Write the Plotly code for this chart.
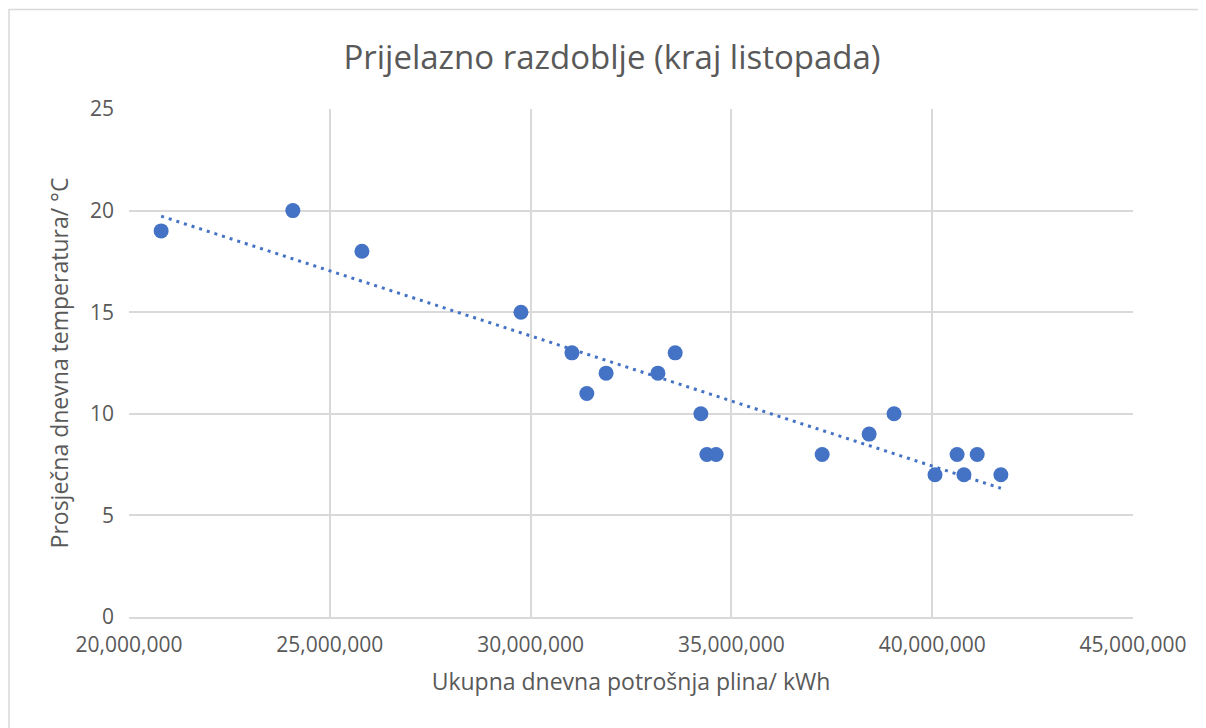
import numpy as np
import plotly.graph_objects as go

# Daily gas consumption (kWh) and mean daily temperature (°C)
potrosnja = [20800000, 24080000, 25800000, 29760000, 31030000, 31400000, 31880000,
             33170000, 33600000, 34240000, 34390000, 34620000, 37260000, 38430000,
             39050000, 40070000, 40620000, 40790000, 41120000, 41710000]
temperatura = [19, 20, 18, 15, 13, 11, 12, 12, 13, 10, 8, 8, 8, 9, 10, 7, 8, 7, 8, 7]

naslov = 'Prijelazno razdoblje (kraj listopada)'
x_naslov = 'Ukupna dnevna potrošnja plina/ kWh'
y_naslov = 'Prosječna dnevna temperatura/ °C'

blue = '#4472C4'
grey_text = '#595959'
grid = '#d9d9d9'

# linear trendline over the data range
k, n = np.polyfit(potrosnja, temperatura, 1)
tx = np.array([min(potrosnja), max(potrosnja)])
ty = k * tx + n

fig = go.Figure()
fig.add_trace(go.Scatter(
    x=tx, y=ty, mode='lines',
    line=dict(color=blue, width=3, dash='3px,5px'),
    hoverinfo='skip', showlegend=False
))
fig.add_trace(go.Scatter(
    x=potrosnja, y=temperatura, mode='markers',
    marker=dict(color=blue, size=15),
    showlegend=False
))

# page body has an 8px margin, so the figure is a bit smaller and shifted
W, H = 1198, 720
L, R, T, B = 121, 73, 101, 111
pw, ph = W - L - R, H - T - B

# outer chart frame
fig.add_shape(type='rect', xref='paper', yref='paper',
              x0=(1 - L) / pw, x1=(1197 - L) / pw,
              y0=(H - B - 740) / ph, y1=(H - B - 1.5) / ph,
              line=dict(color=grid, width=1.5), layer='below')

fig.update_layout(
    width=W, height=H,
    margin=dict(l=L, r=R, t=T, b=B),
    paper_bgcolor='white', plot_bgcolor='white',
    font=dict(family='"Open Sans", sans-serif', color=grey_text, size=21),
    title=dict(text=naslov, x=(612 - 8) / W, xref='container', xanchor='center',
               y=(H - 49) / H, yanchor='middle',
               font=dict(size=33, color=grey_text)),
    xaxis=dict(range=[20000000, 45000000], dtick=5000000, tickformat=',d',
               showgrid=True, gridcolor=grid, gridwidth=1.5,
               showline=True, linecolor=grid, linewidth=1.5, mirror=False,
               zeroline=False, ticks='', ticklabelstandoff=8,
               title=dict(text=x_naslov, font=dict(size=23, color=grey_text), standoff=17)),
    yaxis=dict(range=[0, 25], dtick=5,
               showgrid=True, gridcolor=grid, gridwidth=1.5,
               showline=False, zeroline=False, ticks='', ticklabelstandoff=14,
               title=dict(text=y_naslov, font=dict(size=23, color=grey_text), standoff=14)),
)

fig.write_html("out.html")
